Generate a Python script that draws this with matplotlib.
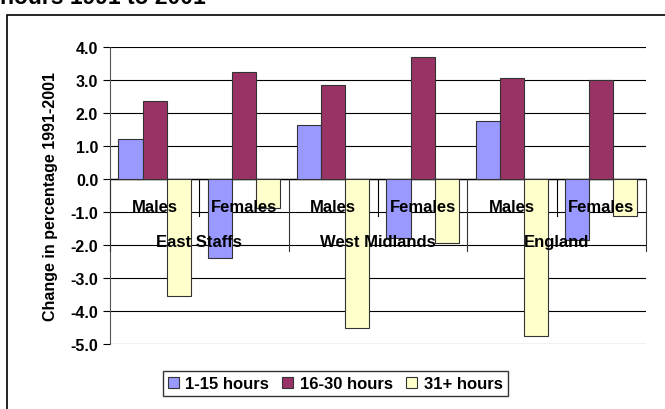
import numpy as np
import matplotlib
matplotlib.use("Agg")
import matplotlib.pyplot as plt
from matplotlib.patches import Rectangle

plt.rcParams['font.family'] = ['Liberation Sans', 'DejaVu Sans']
plt.rcParams['font.weight'] = 'bold'
plt.rcParams['axes.unicode_minus'] = False

# Datos
areas = ['East Staffs', 'West Midlands', 'England']
sexes = ['Males', 'Females']
series = ['1-15 hours', '16-30 hours', '31+ hours']
h_1_15 = [1.2, -2.4, 1.65, -1.8, 1.75, -1.85]
h_16_30 = [2.35, 3.25, 2.85, 3.7, 3.05, 3.0]
h_31 = [-3.55, -0.87, -4.5, -1.95, -4.75, -1.12]
colores = ['#9999FF', '#993366', '#FFFFCC']

fig = plt.figure(figsize=(6.65, 4.1), dpi=100)
ax = fig.add_axes([0.1654, 0.1585, 0.806, 0.7244])

x = np.arange(len(h_1_15))
w = 0.27
for off, vals, c, lab in zip([-w, 0, w], [h_1_15, h_16_30, h_31], colores, series):
    ax.bar(x + off, vals, width=w, color=c, edgecolor='#333333', linewidth=0.8,
           label=lab, zorder=3)

ax.set_xlim(-0.5, 5.5)
ax.set_ylim(-5, 4)
ax.set_yticks(np.arange(-5, 4.1, 1))
ax.yaxis.set_major_formatter(plt.FormatStrFormatter('%.1f'))
ax.tick_params(axis='y', labelsize=11.5, direction='out', length=5, width=0.8, colors='black')
ax.set_xticks([])
ax.grid(axis='y', color='black', linewidth=0.8, zorder=0)
for s in ['top', 'right', 'bottom']:
    ax.spines[s].set_visible(False)
ax.spines['left'].set_color('#555555')
ax.axhline(0, color='black', linewidth=1.0, zorder=2)
ax.set_ylabel('Change in percentage 1991-2001', fontsize=11.5, fontweight='bold', labelpad=9)

# Eje de categorías en dos niveles
for i, s in enumerate(sexes * len(areas)):
    ax.text(i, -0.82, s, ha='center', va='center', fontsize=12, fontweight='bold', zorder=5)
for j, a in enumerate(areas):
    ax.text(2 * j + 0.5, -1.88, a, ha='center', va='center', fontsize=12, fontweight='bold', zorder=5)
    ax.plot([2 * j + 0.5, 2 * j + 0.5], [0, -1.12], color='black', linewidth=0.8, zorder=4)
for b in [-0.5, 1.5, 3.5, 5.5]:
    ax.plot([b, b], [0, -2.18], color='#333333', linewidth=0.8, zorder=4, clip_on=False)

leg = fig.legend(loc='center', bbox_to_anchor=(0.504, 0.061), ncol=3, fontsize=12,
                 frameon=True, fancybox=False, handlelength=0.65, handleheight=0.65,
                 handletextpad=0.4, columnspacing=0.8, borderpad=0.3)
leg.get_frame().set_edgecolor('black')
leg.get_frame().set_linewidth(1.0)

# Marco exterior y título recortado
fig.patches.append(Rectangle((7 / 665, -0.1), 1.2, 1 - 16 / 410 + 0.1, transform=fig.transFigure,
                             fill=False, edgecolor='black', linewidth=1.2))
fig.text(0.0, 1 - 4 / 410, 'hours 1991 to 2001', ha='left', va='baseline', fontsize=16.5,
         fontweight='bold')

fig.savefig('out.png', dpi=100)
